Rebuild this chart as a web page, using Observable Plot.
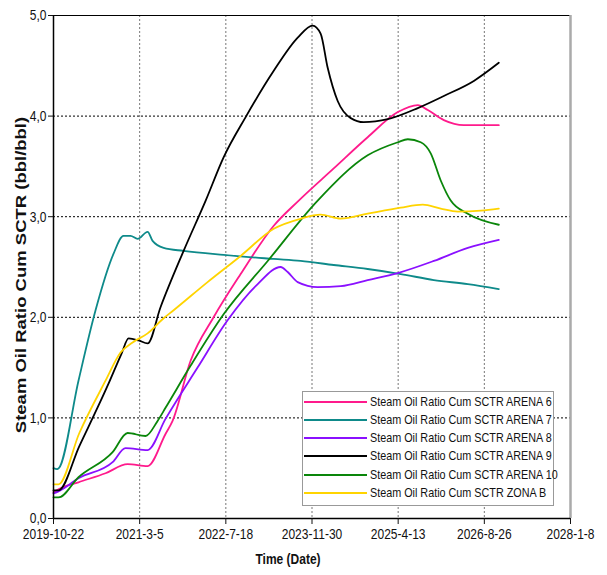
<!DOCTYPE html>
<html><head><meta charset="utf-8">
<script src="https://cdn.jsdelivr.net/npm/d3@7"></script>
<script src="https://cdn.jsdelivr.net/npm/@observablehq/plot@0.6"></script>
<style>
body{margin:0;background:#fff;}
#wrap{position:relative;width:607px;height:575px;font-family:"Liberation Sans",Arial,sans-serif;}
#legend{position:absolute;left:302px;top:391px;width:252px;height:115px;border:1px solid #999;background:#fff;box-sizing:border-box;}
.row{position:absolute;left:0;height:16px;width:250px;}
.sw{position:absolute;left:1px;width:63px;top:7px;height:0;border-top:2px solid #000;}
.lt{position:absolute;left:67px;top:0;font-size:13px;line-height:16px;color:#111;white-space:nowrap;transform:scaleX(0.83);transform-origin:0 50%;}
</style></head>
<body><div id="wrap"><div id="legend"></div></div>
<script>
const seriesNames = ["Steam Oil Ratio Cum SCTR ARENA 6","Steam Oil Ratio Cum SCTR ARENA 7","Steam Oil Ratio Cum SCTR ARENA 8","Steam Oil Ratio Cum SCTR ARENA 9","Steam Oil Ratio Cum SCTR ARENA 10","Steam Oil Ratio Cum SCTR ZONA B"];
const seriesColors = ["#ff1a8c","#0e8a8a","#8a10ff","#000000","#0a860a","#ffd400"];
const xTicks = ["2019-10-22","2021-03-05","2022-07-18","2023-11-30","2025-04-13","2026-08-26","2028-01-08"];
const yTicks = [0,1,2,3,4,5];

const arena6Dates = ["2019-10-22","2019-11-20","2020-03-15","2020-08-19","2020-12-25","2021-04-20","2021-08-02","2021-09-12","2021-12-26","2022-05-08","2022-10-12","2023-04-22","2023-09-14","2024-04-04","2024-10-18","2025-04-11","2025-08-05","2025-10-02","2026-01-03","2026-04-29","2026-11-18"];
const arena6Values = [0.26,0.29,0.36,0.45,0.54,0.52,0.84,0.97,1.57,2.00,2.43,2.91,3.16,3.48,3.79,4.04,4.11,4.06,3.96,3.91,3.91];

const arena7Dates = ["2019-10-22","2019-11-12","2019-11-22","2020-03-15","2020-06-22","2020-10-04","2020-12-01","2021-01-11","2021-02-21","2021-04-20","2021-05-19","2021-07-22","2021-11-15","2022-07-05","2023-04-22","2023-09-25","2024-04-04","2024-10-18","2025-04-28","2025-11-06","2026-05-22","2026-11-18"];
const arena7Values = [0.50,0.49,0.50,1.37,2.07,2.63,2.81,2.81,2.78,2.85,2.76,2.69,2.66,2.62,2.58,2.56,2.52,2.48,2.43,2.37,2.33,2.28];

const arena8Dates = ["2019-10-22","2019-11-20","2020-03-15","2020-09-29","2020-12-13","2021-04-20","2021-08-02","2022-02-04","2022-07-28","2023-01-19","2023-06-01","2023-07-12","2023-09-08","2024-01-02","2024-05-15","2024-10-18","2025-04-11","2025-11-06","2026-05-22","2026-11-18"];
const arena8Values = [0.25,0.27,0.40,0.56,0.70,0.68,0.99,1.50,1.97,2.33,2.50,2.45,2.35,2.30,2.31,2.37,2.44,2.56,2.69,2.77];

const arena9Dates = ["2019-10-22","2019-11-20","2020-03-20","2020-08-31","2020-11-20","2020-12-31","2021-02-27","2021-04-20","2021-07-04","2021-11-15","2022-03-23","2022-07-05","2022-11-10","2023-04-22","2023-09-08","2023-12-04","2024-01-19","2024-02-29","2024-04-27","2024-07-12","2024-09-25","2025-02-12","2025-08-05","2026-01-03","2026-06-26","2026-11-18"];
const arena9Values = [0.28,0.28,0.72,1.32,1.64,1.79,1.77,1.74,2.10,2.66,3.16,3.59,3.99,4.45,4.78,4.90,4.82,4.48,4.15,3.98,3.94,3.97,4.08,4.20,4.35,4.53];

const arena10Dates = ["2019-10-22","2019-11-20","2020-03-15","2020-09-29","2020-12-25","2021-04-08","2021-06-17","2021-08-02","2021-12-26","2022-07-05","2023-03-18","2024-01-02","2024-10-18","2025-04-11","2025-06-08","2025-08-22","2025-10-19","2025-12-16","2026-02-12","2026-05-22","2026-11-18"];
const arena10Values = [0.21,0.21,0.41,0.66,0.85,0.82,0.97,1.10,1.52,2.03,2.56,3.16,3.61,3.74,3.77,3.74,3.63,3.36,3.16,3.03,2.92];

const zonaBDates = ["2019-10-22","2019-11-20","2020-03-20","2020-08-19","2020-11-14","2021-01-23","2021-04-20","2021-07-22","2021-09-18","2022-04-03","2022-10-12","2023-04-22","2023-09-25","2024-01-19","2024-05-15","2024-10-18","2025-04-28","2025-09-03","2025-12-16","2026-03-25","2026-08-06","2026-11-18"];
const zonaBValues = [0.34,0.34,0.85,1.37,1.65,1.75,1.84,1.99,2.07,2.35,2.61,2.88,2.98,3.02,2.98,3.03,3.09,3.12,3.08,3.05,3.06,3.08];

const parse = d3.utcParse("%Y-%m-%d");
const allDates = [arena6Dates,arena7Dates,arena8Dates,arena9Dates,arena10Dates,zonaBDates];
const allValues = [arena6Values,arena7Values,arena8Values,arena9Values,arena10Values,zonaBValues];
const rows = [];
allDates.forEach((ds,i)=>ds.forEach((d,j)=>rows.push({date:parse(d),value:allValues[i][j],series:seriesNames[i]})));
const tickDates = xTicks.map(parse);
const fmtDate = d => `${d.getUTCFullYear()}-${d.getUTCMonth()+1}-${d.getUTCDate()}`;
const fmtY = d => d.toFixed(1).replace(".", ",");

const chart = Plot.plot({
  width:607, height:575,
  marginLeft:53, marginRight:37, marginTop:15, marginBottom:57,
  style:{fontFamily:'"Liberation Sans",Arial,sans-serif', fontSize:"15px", color:"#111", background:"#fff"},
  x:{type:"utc", domain:[tickDates[0], tickDates[tickDates.length-1]]},
  y:{domain:[0,5]},
  color:{domain:seriesNames, range:seriesColors},
  marks:[
    Plot.gridX(tickDates.slice(1,-1), {stroke:"#777", strokeOpacity:1, strokeDasharray:"2,2"}),
    Plot.gridY(yTicks.slice(1,-1), {stroke:"#000", strokeOpacity:1, strokeDasharray:"2,2"}),
    Plot.ruleY([5], {stroke:"#000", strokeWidth:1}),
    Plot.ruleX([tickDates[tickDates.length-1]], {stroke:"#aaa", strokeWidth:2.5}),
    Plot.line(rows, {x:"date", y:"value", z:"series", stroke:"series", strokeWidth:1.8, curve:"monotone-x"}),
    Plot.ruleY([0], {stroke:"#000", strokeWidth:1.5}),
    Plot.ruleX([tickDates[0]], {stroke:"#000", strokeWidth:1.5}),
    Plot.axisX(tickDates, {tickFormat:fmtDate, tickSize:6, tickPadding:4, label:null, fontSize:15, className:"narrow"}),
    Plot.axisY(yTicks, {tickFormat:fmtY, tickSize:5, tickPadding:2, label:null, fontSize:15, className:"narrow"}),
    Plot.text(["Time (Date)"], {frameAnchor:"bottom", dx:-24, dy:45, fontWeight:"bold", fontSize:15, fill:"#111", className:"narrow"}),
    Plot.text(["Steam Oil Ratio Cum SCTR (bbl/bbl)"], {frameAnchor:"left", textAnchor:"middle", rotate:-90, dx:-32, dy:8, fontWeight:"bold", fontSize:18.5, fill:"#111", className:"squash"})
  ]
});
// the original is rendered with a horizontally condensed type
d3.select(chart).selectAll(".narrow text").each(function(){
  const t = this.getAttribute("transform") || "";
  this.setAttribute("transform", t + " scale(0.8,1)");
});
d3.select(chart).selectAll(".squash text").each(function(){
  const t = this.getAttribute("transform") || "";
  this.setAttribute("transform", t + " scale(1,0.78)");
});
const wrap = document.getElementById("wrap");
wrap.insertBefore(chart, wrap.firstChild);

const legend = document.getElementById("legend");
const rowTops = [2, 20, 38, 56, 75, 93];
seriesNames.forEach((name,i)=>{
  const r = document.createElement("div");
  r.className = "row"; r.style.top = rowTops[i] + "px";
  const sw = document.createElement("div"); sw.className = "sw"; sw.style.borderTopColor = seriesColors[i];
  const t = document.createElement("div"); t.className = "lt"; t.textContent = name;
  r.appendChild(sw); r.appendChild(t); legend.appendChild(r);
});
</script>
</body></html>
